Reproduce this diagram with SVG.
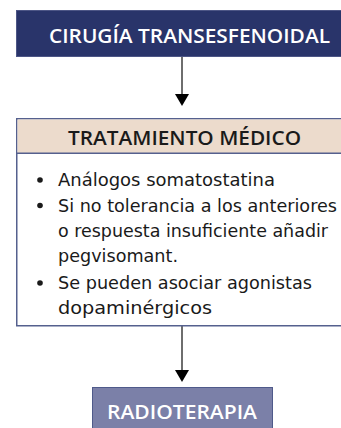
<svg xmlns="http://www.w3.org/2000/svg" width="341" height="428" viewBox="0 0 341 428">
<defs>
<style>
.t{font-family:"Open Sans","Noto Sans","DejaVu Sans",sans-serif}
.w{fill:#ffffff;font-weight:600;font-size:19px}
.h{fill:#1a1a1a;font-weight:600;font-size:19.5px}
.b{font-family:"DejaVu Sans","Noto Sans",sans-serif;fill:#1a1a1a;font-size:17.5px}
.conn{stroke:#6e6e6e;stroke-width:2;fill:none}
</style>
</defs>
<rect width="341" height="428" fill="#fff"/>
<g id="connectors">
<line class="conn" x1="182" y1="57" x2="182" y2="94"/>
<path d="M175,94 L189,94 L182,106 Z" fill="#000"/>
<line class="conn" x1="182" y1="326" x2="182" y2="370"/>
<path d="M175,370 L189,370 L182,382 Z" fill="#000"/>
</g>
<g id="cirugia">
<rect x="16.5" y="10.5" width="340" height="46" fill="#29346a" stroke="#4d5686" stroke-width="1"/>
<text class="t w" x="49" y="43" textLength="281" lengthAdjust="spacingAndGlyphs">CIRUGÍA TRANSESFENOIDAL</text>
</g>
<g id="tratamiento">
<rect x="16.75" y="118.75" width="340" height="207" fill="#fff" stroke="#55608e" stroke-width="1.5"/>
<rect x="17.5" y="119.5" width="330" height="33.5" fill="#ecdbcc"/>
<line x1="16.75" y1="153.25" x2="341" y2="153.25" stroke="#55608e" stroke-width="1.5"/>
<text class="t h" x="68" y="145" textLength="233" lengthAdjust="spacingAndGlyphs">TRATAMIENTO MÉDICO</text>
<g class="b">
<circle cx="40" cy="180" r="2.8" fill="#1a1a1a"/>
<text x="58" y="186" textLength="217" lengthAdjust="spacingAndGlyphs">Análogos somatostatina</text>
<circle cx="40" cy="205.5" r="2.8" fill="#1a1a1a"/>
<text x="58" y="211.5" textLength="279" lengthAdjust="spacingAndGlyphs">Si no tolerancia a los anteriores</text>
<text x="58" y="237" textLength="270" lengthAdjust="spacingAndGlyphs">o respuesta insuficiente añadir</text>
<text x="58" y="262" textLength="120" lengthAdjust="spacingAndGlyphs">pegvisomant.</text>
<circle cx="40" cy="283" r="2.8" fill="#1a1a1a"/>
<text x="58" y="289" textLength="254" lengthAdjust="spacingAndGlyphs">Se pueden asociar agonistas</text>
<text x="58" y="314" textLength="154" lengthAdjust="spacingAndGlyphs">dopaminérgicos</text>
</g>
</g>
<g id="radioterapia">
<rect x="92.5" y="387.5" width="180" height="45" fill="#7b80a8" stroke="#4f5a8a" stroke-width="1"/>
<text class="t w" x="107" y="419" textLength="150" lengthAdjust="spacingAndGlyphs">RADIOTERAPIA</text>
</g>
</svg>
